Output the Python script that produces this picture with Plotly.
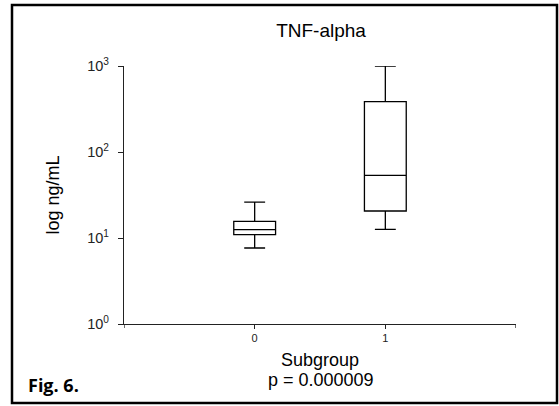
import plotly.graph_objects as go

# ---- data ----
subgroups = [0, 1]
q1_vals = [10.96, 20.6]
median_vals = [12.5, 53.5]
q3_vals = [15.6, 385.0]
lower_whisker = [7.65, 12.6]
upper_whisker = [26.2, 1000.0]

y_tickvals = [1, 10, 100, 1000]
y_ticktext = ["10<sup>0</sup>", "10<sup>1</sup>", "10<sup>2</sup>", "10<sup>3</sup>"]
x_tickvals = [0, 1]
x_ticktext = ["0", "1"]
x_end_ticks = [-1, 2]

title_text = "TNF-alpha"
y_title = "log ng/mL"
x_title = "Subgroup"
p_text = "p = 0.000009"
fig_label = "Fig. 6."

# ---- layout geometry ----
W, H = 559, 406
L, R, T, B = 124, 43, 66, 82
PW, PH = W - L - R, H - T - B

def px_x(px):
    return (px - L) / PW

def px_y(py):
    return (H - B - py) / PH

FONT = "Arial, Liberation Sans, sans-serif"

fig = go.Figure()
for i, s in enumerate(subgroups):
    fig.add_trace(go.Box(
        x=[s],
        q1=[q1_vals[i]], median=[median_vals[i]], q3=[q3_vals[i]],
        lowerfence=[lower_whisker[i]], upperfence=[upper_whisker[i]],
        width=0.32, whiskerwidth=0.5,
        line=dict(color="black", width=1.3),
        fillcolor="rgba(255,255,255,0)",
        boxpoints=False, showlegend=False, hoverinfo="skip",
    ))

fig.update_layout(
    width=W, height=H,
    margin=dict(l=L, r=R, t=T, b=B),
    paper_bgcolor="white", plot_bgcolor="white",
    font=dict(family=FONT, color="black"),
    title=dict(text=title_text, x=321 / W, xanchor="center",
               y=1 - 30 / H, yanchor="middle", yref="container",
               font=dict(size=19, family=FONT, color="black")),
    showlegend=False,
)

fig.update_xaxes(
    range=[-1, 2], tickvals=x_tickvals, ticktext=x_ticktext,
    showline=True, linecolor="#222", linewidth=1.3,
    ticks="outside", ticklen=4, tickwidth=1.3, tickcolor="#222",
    showgrid=False, zeroline=False,
    tickfont=dict(size=11, family=FONT, color="#222"),
    title=dict(text=x_title, font=dict(size=18, family=FONT, color="black"), standoff=10),
)
fig.update_yaxes(
    type="log", range=[0, 3], tickvals=y_tickvals, ticktext=y_ticktext,
    showline=True, linecolor="#222", linewidth=1.3,
    ticks="outside", ticklen=5, tickwidth=1.3, tickcolor="#222",
    showgrid=False, zeroline=False, ticklabelstandoff=6,
    tickfont=dict(size=14.5, family=FONT, color="#222"),
    title=dict(text=y_title, font=dict(size=18, family=FONT, color="black"), standoff=22),
)

# unlabeled end ticks on the x axis (at the axis range ends)
for xv in x_end_ticks:
    fig.add_shape(
        type="line", xref="x", yref="paper",
        x0=xv, x1=xv, y0=0, y1=-4 / PH,
        line=dict(color="#222", width=1.3),
    )

fig.add_annotation(
    text=p_text, xref="paper", yref="paper",
    x=px_x(321), y=px_y(380), xanchor="center", yanchor="middle",
    showarrow=False, font=dict(size=18, family=FONT, color="black"),
)
fig.add_annotation(
    text="<b>" + fig_label + "</b>", xref="paper", yref="paper",
    x=px_x(26), y=px_y(385), xanchor="left", yanchor="middle",
    showarrow=False, font=dict(size=18, family="Open Sans, Noto Sans, sans-serif", color="black"),
)
fig.add_shape(
    type="rect", xref="paper", yref="paper",
    x0=px_x(12), x1=px_x(557), y0=px_y(403), y1=px_y(5),
    line=dict(color="black", width=2.5), fillcolor="rgba(0,0,0,0)", layer="below",
)

fig.write_html("out.html")
